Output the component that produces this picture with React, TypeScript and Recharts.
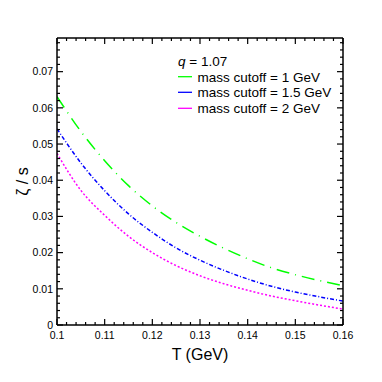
import React from "react";
import { LineChart, Line, XAxis, YAxis, Customized } from "recharts";

const T = [0.1, 0.105, 0.11, 0.115, 0.12, 0.125, 0.13, 0.135, 0.14, 0.145, 0.15, 0.155, 0.16];
const cutoff1 = [0.0631, 0.0535, 0.0454, 0.0385, 0.0329, 0.0283, 0.0245, 0.0212, 0.0183, 0.0158, 0.0139, 0.0123, 0.0109];
const cutoff15 = [0.0542, 0.0448, 0.0371, 0.0307, 0.0256, 0.0213, 0.0179, 0.0151, 0.0127, 0.0107, 0.0091, 0.0078, 0.0066];
const cutoff2 = [0.0474, 0.0372, 0.0303, 0.0245, 0.02, 0.0164, 0.0136, 0.0114, 0.0096, 0.008, 0.0067, 0.0055, 0.0044];

const xMajor = [0.1, 0.11, 0.12, 0.13, 0.14, 0.15, 0.16];
const xLabels = ["0.1", "0.11", "0.12", "0.13", "0.14", "0.15", "0.16"];
const yMajor = [0, 0.01, 0.02, 0.03, 0.04, 0.05, 0.06, 0.07];
const yLabels = ["0", "0.01", "0.02", "0.03", "0.04", "0.05", "0.06", "0.07"];
const legendTitle = "1.07";
const seriesNames = ["mass cutoff = 1 GeV", "mass cutoff = 1.5 GeV", "mass cutoff = 2 GeV"];

const X_DOMAIN: [number, number] = [0.1, 0.16];
const Y_DOMAIN: [number, number] = [0, 0.0793];

const round = (v: number) => Math.round(v * 100000) / 100000;
const subdivide = (majors: number[], n: number, max: number) => {
  const out: number[] = [];
  const step = (majors[1] - majors[0]) / n;
  for (let v = majors[0]; v <= max + 1e-9; v += step) out.push(round(v));
  return out;
};
const xTicks = subdivide(xMajor, 5, X_DOMAIN[1]);
const yTicks = subdivide(yMajor, 5, Y_DOMAIN[1]);

const data = T.map((t, i) => ({ T: t, a: cutoff1[i], b: cutoff15[i], c: cutoff2[i] }));

const FONT = "Liberation Sans, Arial, Helvetica, sans-serif";
const MAJ = 6;
const MIN = 3;

const isMajor = (arr: number[], v: number) => arr.findIndex((m) => Math.abs(m - v) < 1e-9);

const XTick = (dir: number, labels: boolean) => (props: any) => {
  const { x, y, payload } = props;
  const idx = isMajor(xMajor, payload.value);
  const len = idx >= 0 ? MAJ : MIN;
  return (
    <g>
      <line x1={x} x2={x} y1={y} y2={y + dir * len} stroke="#000" strokeWidth={1.2} />
      {labels && idx >= 0 && (
        <text x={x} y={y + 13.5} textAnchor="middle" fontSize={10.5} fontFamily={FONT} fill="#000">
          {xLabels[idx]}
        </text>
      )}
    </g>
  );
};

const YTick = (dir: number, labels: boolean) => (props: any) => {
  const { x, y, payload } = props;
  const idx = isMajor(yMajor, payload.value);
  const len = idx >= 0 ? MAJ : MIN;
  return (
    <g>
      <line x1={x} x2={x + dir * len} y1={y} y2={y} stroke="#000" strokeWidth={1.2} />
      {labels && idx >= 0 && (
        <text x={x - 4} y={y + 3.8} textAnchor="end" fontSize={10.5} fontFamily={FONT} fill="#000">
          {yLabels[idx]}
        </text>
      )}
    </g>
  );
};

const LegendAndTitles = () => {
  const rows = [
    { color: "#00ff00", dash: "13 6 1 6", name: seriesNames[0], y: 68.7 },
    { color: "#0000ff", dash: "4 2 1 2", name: seriesNames[1], y: 84.3 },
    { color: "#ff00ff", dash: "2 2", name: seriesNames[2], y: 100.3 },
  ];
  return (
    <g fontFamily={FONT}>
      <text x={170} y={57.5} fontSize={13.5} fill="#000">
        <tspan fontStyle="italic">q</tspan>
        <tspan> = {legendTitle}</tspan>
      </text>
      {rows.map((r) => (
        <g key={r.name}>
          <line x1={170} x2={184} y1={r.y} y2={r.y} stroke={r.color} strokeWidth={1.3} />
          <text x={189.5} y={r.y + 4.8} fontSize={13.5} fill="#000">
            {r.name}
          </text>
        </g>
      ))}
      <text x={192} y={352} textAnchor="middle" fontSize={16} fill="#000">
        T (GeV)
      </text>
      <text
        x={0}
        y={0}
        transform="translate(20,173.5) rotate(-90)"
        textAnchor="middle"
        fontSize={16}
        fill="#000"
      >
        ζ / s
      </text>
    </g>
  );
};

const axisLine = { stroke: "#000", strokeWidth: 1.5 };

export default function App() {
  return (
    <div style={{ width: 374, height: 374 }}>
      <LineChart
        width={374}
        height={374}
        data={data}
        margin={{ top: 29, right: 38, bottom: 56, left: 48 }}
      >
        <XAxis
          xAxisId="b"
          dataKey="T"
          type="number"
          domain={X_DOMAIN}
          ticks={xTicks}
          interval={0}
          height={1}
          tickSize={0}
          tickMargin={0}
          allowDataOverflow
          axisLine={axisLine}
          tickLine={false}
          tick={XTick(-1, true)}
        />
        <XAxis
          xAxisId="t"
          orientation="top"
          dataKey="T"
          type="number"
          domain={X_DOMAIN}
          ticks={xTicks}
          interval={0}
          height={1}
          tickSize={0}
          tickMargin={0}
          allowDataOverflow
          axisLine={axisLine}
          tickLine={false}
          tick={XTick(1, false)}
        />
        <YAxis
          yAxisId="l"
          type="number"
          domain={Y_DOMAIN}
          ticks={yTicks}
          interval={0}
          width={1}
          tickSize={0}
          tickMargin={0}
          allowDataOverflow
          axisLine={axisLine}
          tickLine={false}
          tick={YTick(1, true)}
        />
        <YAxis
          yAxisId="r"
          orientation="right"
          type="number"
          domain={Y_DOMAIN}
          ticks={yTicks}
          interval={0}
          width={1}
          tickSize={0}
          tickMargin={0}
          allowDataOverflow
          axisLine={axisLine}
          tickLine={false}
          tick={YTick(-1, false)}
        />
        <Line
          xAxisId="b"
          yAxisId="l"
          type="monotone"
          dataKey="a"
          stroke="#00ff00"
          strokeWidth={1.5}
          strokeDasharray="13 6 1 6"
          dot={false}
          isAnimationActive={false}
        />
        <Line
          xAxisId="b"
          yAxisId="l"
          type="monotone"
          dataKey="b"
          stroke="#0000ff"
          strokeWidth={1.5}
          strokeDasharray="4 2 1 2"
          dot={false}
          isAnimationActive={false}
        />
        <Line
          xAxisId="b"
          yAxisId="l"
          type="monotone"
          dataKey="c"
          stroke="#ff00ff"
          strokeWidth={1.5}
          strokeDasharray="2 2"
          dot={false}
          isAnimationActive={false}
        />
        <Customized component={LegendAndTitles} />
      </LineChart>
    </div>
  );
}
